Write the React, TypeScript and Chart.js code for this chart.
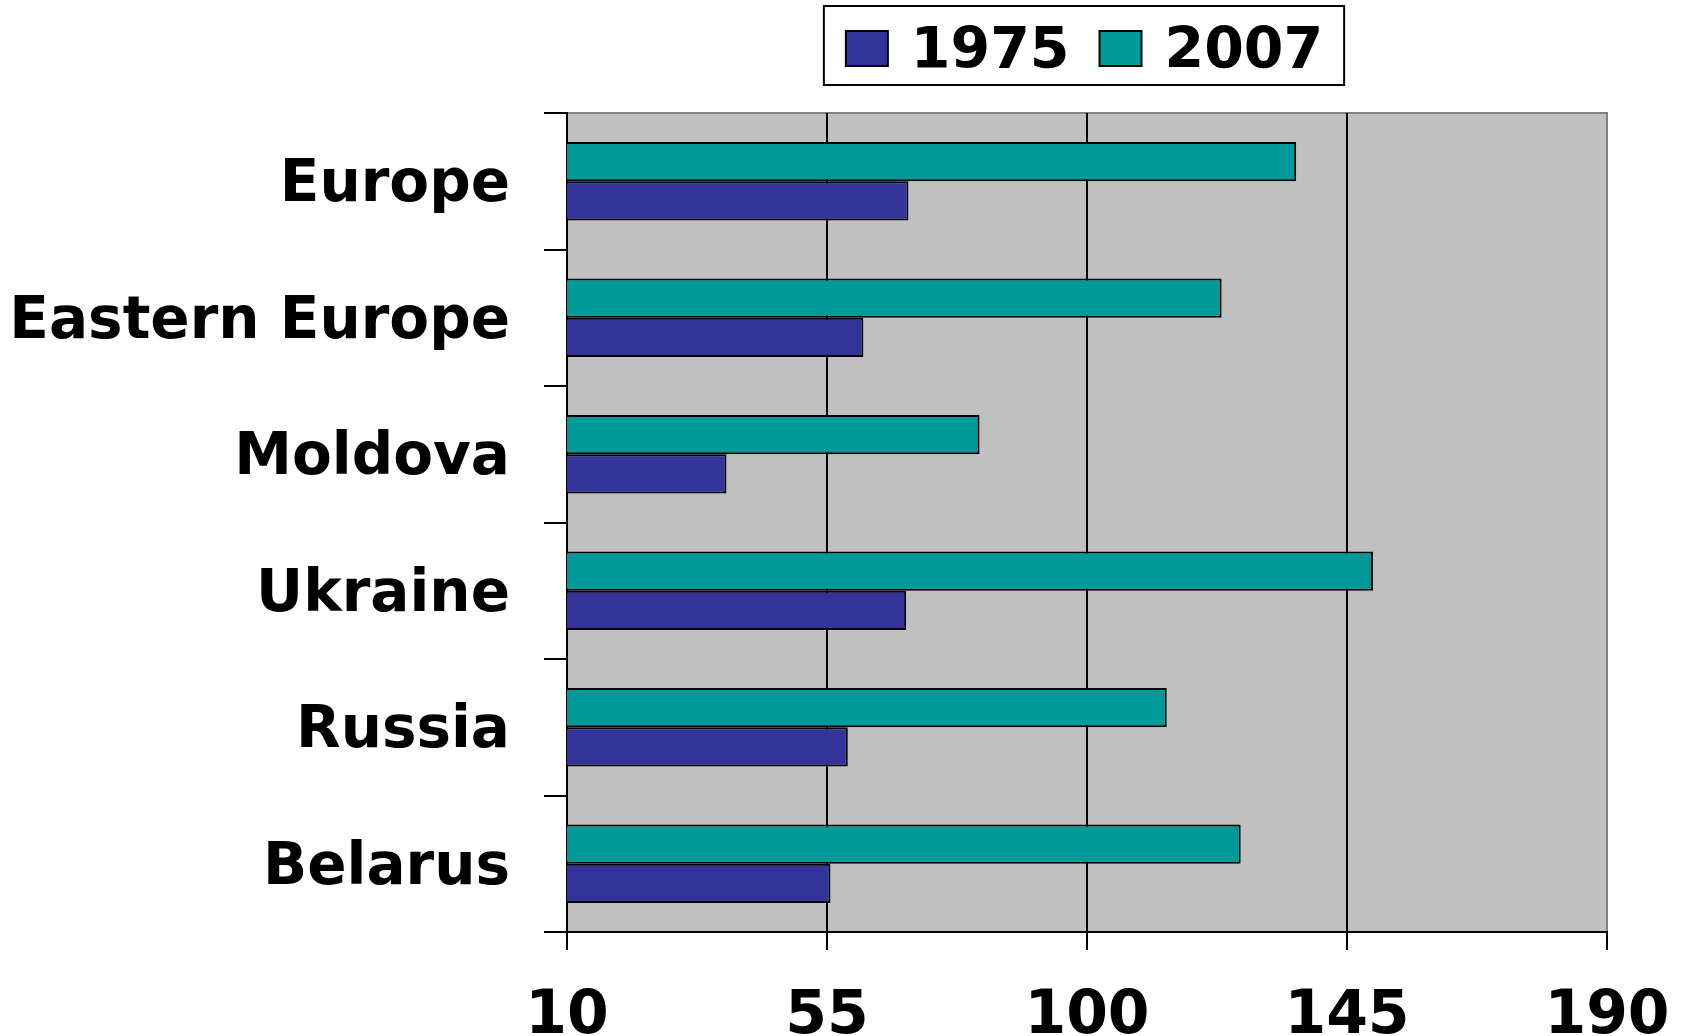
import React, { useEffect, useRef } from 'react';
import { Chart, registerables } from 'chart.js';

Chart.register(...registerables);

const categories = ['Europe', 'Eastern Europe', 'Moldova', 'Ukraine', 'Russia', 'Belarus'];
const seriesNames = ['1975', '2007'];
const values1975 = [69.1, 61.3, 37.6, 68.7, 58.6, 55.6];
const values2007 = [136.2, 123.3, 81.4, 149.5, 113.8, 126.6];
const xMin = 10;
const xMax = 190;
const xStep = 45;

const FAMILY = '"DejaVu Sans", Verdana, sans-serif';
const LABEL_FONT = { family: FAMILY, weight: 'bold' as const, size: 58 };
const TICK_FONT = { family: FAMILY, weight: 'bold' as const, size: 60 };

const plotBg = {
  id: 'plotBg',
  beforeDraw(chart: any) {
    const { ctx, chartArea: a } = chart;
    ctx.save();
    ctx.fillStyle = '#C0C0C0';
    ctx.fillRect(a.left, a.top, a.right - a.left, a.bottom - a.top);
    ctx.strokeStyle = '#808080';
    ctx.lineWidth = 2;
    ctx.beginPath();
    ctx.moveTo(a.left, a.top);
    ctx.lineTo(a.right, a.top);
    ctx.lineTo(a.right, a.bottom);
    ctx.stroke();
    ctx.restore();
  },
};

// Framed legend (1975 first, then 2007), centred over the plot area.
const framedLegend = {
  id: 'framedLegend',
  afterDraw(chart: any) {
    const { ctx, chartArea: a } = chart;
    const items = chart.data.datasets
      .map((d: any) => ({ text: d.label, color: d.backgroundColor }))
      .reverse();
    const sw = 42;
    const sh = 35;
    const gapText = 23;
    const gapItem = 30;
    const padL = 22;
    const padR = 21;
    ctx.save();
    ctx.font = `bold 57px ${FAMILY}`;
    const widths = items.map((it: any) => ctx.measureText(it.text).width);
    let total = padL + padR;
    widths.forEach((w: number, i: number) => {
      total += sw + gapText + w + (i > 0 ? gapItem : 0);
    });
    const cx = (a.left + a.right) / 2 - 3;
    const fx = cx - total / 2;
    const fy = 6;
    const fh = 79;
    ctx.fillStyle = '#fff';
    ctx.fillRect(fx, fy, total, fh);
    ctx.strokeStyle = '#000';
    ctx.lineWidth = 2;
    ctx.strokeRect(fx, fy, total, fh);
    let x = fx + padL;
    items.forEach((it: any, i: number) => {
      ctx.fillStyle = it.color;
      ctx.fillRect(x, 31, sw, sh);
      ctx.strokeStyle = '#000';
      ctx.lineWidth = 2;
      ctx.strokeRect(x, 31, sw, sh);
      x += sw + gapText;
      ctx.fillStyle = '#000';
      ctx.textAlign = 'left';
      ctx.textBaseline = 'alphabetic';
      ctx.fillText(it.text, x, 68);
      x += widths[i] + gapItem;
    });
    ctx.restore();
  },
};

export default function App() {
  const ref = useRef<HTMLCanvasElement>(null);

  useEffect(() => {
    if (!ref.current) return;
    const chart = new Chart(ref.current, {
      type: 'bar',
      data: {
        labels: categories,
        datasets: [
          {
            label: seriesNames[1],
            data: values2007,
            backgroundColor: '#009999',
            borderColor: '#000',
            borderWidth: 2,
            borderSkipped: false,
            categoryPercentage: 0.575,
            barPercentage: 1,
          },
          {
            label: seriesNames[0],
            data: values1975,
            backgroundColor: '#333399',
            borderColor: '#000',
            borderWidth: 2,
            borderSkipped: false,
            categoryPercentage: 0.575,
            barPercentage: 1,
          },
        ],
      },
      options: {
        indexAxis: 'y',
        animation: false,
        responsive: false,
        maintainAspectRatio: false,
        layout: { padding: { left: 0, right: 81, top: 113, bottom: 0 } },
        plugins: {
          tooltip: { enabled: false },
          legend: { display: false },
        },
        scales: {
          x: {
            type: 'linear',
            position: 'bottom',
            min: xMin,
            max: xMax,
            ticks: { stepSize: xStep, font: TICK_FONT, color: '#000', padding: 31 },
            grid: {
              color: (c: any) => (c.tick && c.tick.value === xMax ? '#808080' : '#000'),
              lineWidth: 2,
              drawTicks: true,
              tickLength: 18,
              tickColor: '#000',
            },
            border: { color: '#000', width: 2 },
            afterFit: (s: any) => {
              s.height = 104;
              s.paddingLeft = 0;
              s.paddingRight = 0;
            },
          },
          y: {
            ticks: { font: LABEL_FONT, color: '#000', padding: 34, labelOffset: 5 },
            grid: {
              drawOnChartArea: false,
              drawTicks: true,
              tickLength: 23,
              tickColor: '#000',
              lineWidth: 2,
              offset: true,
            },
            border: { color: '#000', width: 2 },
            afterFit: (s: any) => {
              s.width = 567;
              s.paddingTop = 0;
              s.paddingBottom = 0;
            },
          },
        },
      },
      plugins: [plotBg, framedLegend],
    } as any);
    return () => chart.destroy();
  }, []);

  return (
    <div style={{ position: 'absolute', left: 0, top: 0, width: 1688, height: 1036, background: '#fff' }}>
      <canvas ref={ref} width={1688} height={1036} style={{ display: 'block' }} />
    </div>
  );
}
